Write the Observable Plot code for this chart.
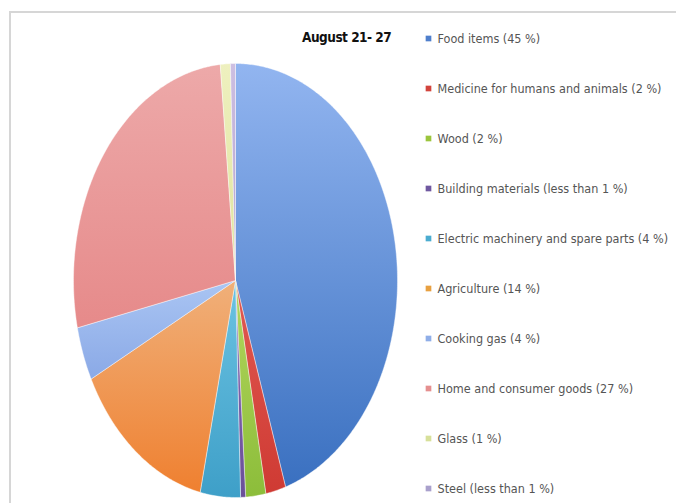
<!DOCTYPE html>
<html>
<head>
<meta charset="utf-8">
<script src="https://cdn.jsdelivr.net/npm/d3@7"></script>
<script src="https://cdn.jsdelivr.net/npm/@observablehq/plot@0.6"></script>
<style>
  html, body { margin: 0; padding: 0; background: #fff; }
  #wrap { position: relative; width: 676px; height: 503px; overflow: hidden; font-family: "Liberation Sans Narrow", "DejaVu Sans Condensed", "Roboto", sans-serif; }
  #frame { position: absolute; left: 9px; top: 11px; right: -4px; bottom: -4px; border-top: 2px solid #d6d6d6; border-left: 2px solid #d6d6d6; }
  #pie { position: absolute; left: 0; top: 0; }
  #legend { position: absolute; left: 410px; top: 0; }
  #period { position: absolute; left: 302px; top: 29px; font-weight: bold; font-size: 13.5px; color: #111; letter-spacing: -0.5px; }
</style>
</head>
<body>
<div id="wrap">
  <div id="frame"></div>
  <div id="pie"></div>
  <div id="legend"></div>
  <div id="period">August 21- 27</div>
</div>
<script>
// ---- data ----
const names = [
  "Food items",
  "Medicine for humans and animals",
  "Wood",
  "Building materials",
  "Electric machinery and spare parts",
  "Agriculture",
  "Cooking gas",
  "Home and consumer goods",
  "Glass",
  "Steel"
];
const shares = [45, 2, 2, 0.5, 4, 14, 4, 27, 1, 0.5];
const shareLabels = ["45 %", "2 %", "2 %", "less than 1 %", "4 %", "14 %", "4 %", "27 %", "1 %", "less than 1 %"];
const topColors    = ["#92b5f0", "#e05a52", "#b3d65e", "#8a70b8", "#6cc3e2", "#f0b07a", "#aac5f3", "#eda9a9", "#eef0bf", "#cdbfe2"];
const bottomColors = ["#3a70c0", "#cf3a33", "#8cbd3a", "#6a4f98", "#3e9fc8", "#ef8030", "#8aa9e6", "#e68a8a", "#dfe39d", "#b3a2cf"];
const legendColors = ["#4f7fcc", "#d2443c", "#9bc53d", "#6f58a0", "#4bacd0", "#e8a040", "#8faee8", "#e58f8f", "#d7e09a", "#a9a0cc"];

// ---- build table ----
const rows = names.map((n, i) => ({name: n, value: shares[i], label: `${n} (${shareLabels[i]})`, color: legendColors[i], i}));
const arcs = d3.pie().sort(null).value(d => d.value)(rows);
const slices = arcs.map(a => {
  const pts = [{x: 0, y: 0}];
  const n = Math.max(3, Math.ceil((a.endAngle - a.startAngle) / 0.01));
  for (let k = 0; k <= n; k++) {
    const t = a.startAngle + (a.endAngle - a.startAngle) * k / n;
    pts.push({x: Math.sin(t), y: Math.cos(t)});
  }
  pts.push({x: 0, y: 0});
  return {i: a.data.i, pts};
});

const pie = Plot.plot({
  width: 676,
  height: 503,
  margin: 0,
  x: {domain: [-1, 1], range: [73, 397], axis: null},
  y: {domain: [-1, 1], range: [497, 63], axis: null},
  marks: slices.map(s => Plot.line(s.pts, {
    x: "x", y: "y", curve: "linear",
    fill: `url(#slice-grad-${s.i})`,
    stroke: "#ffffff", strokeWidth: 0.6, strokeOpacity: 0.7
  }))
});
const defs = d3.select(pie).insert("defs", ":first-child");
topColors.forEach((c, i) => {
  const g = defs.append("linearGradient").attr("id", `slice-grad-${i}`)
    .attr("x1", 0).attr("y1", 0).attr("x2", 0).attr("y2", 1);
  g.append("stop").attr("offset", "0%").attr("stop-color", c);
  g.append("stop").attr("offset", "100%").attr("stop-color", bottomColors[i]);
});
document.getElementById("pie").appendChild(pie);

const legend = Plot.plot({
  width: 266,
  height: 503,
  margin: 0,
  y: {type: "point", padding: 0, domain: rows.map(d => d.label), range: [38, 488], axis: null},
  color: {type: "identity"},
  style: {fontFamily: '"Liberation Sans Narrow", "DejaVu Sans Condensed", sans-serif', background: "transparent"},
  marks: [
    Plot.dot(rows, {y: "label", frameAnchor: "left", dx: 18, symbol: "square", r: 3.2, fill: "color", stroke: "none"}),
    Plot.text(rows, {y: "label", text: "label", frameAnchor: "left", dx: 27, textAnchor: "start", fontSize: 12.5, fill: "#555"})
  ]
});
document.getElementById("legend").appendChild(legend);
</script>
</body>
</html>
